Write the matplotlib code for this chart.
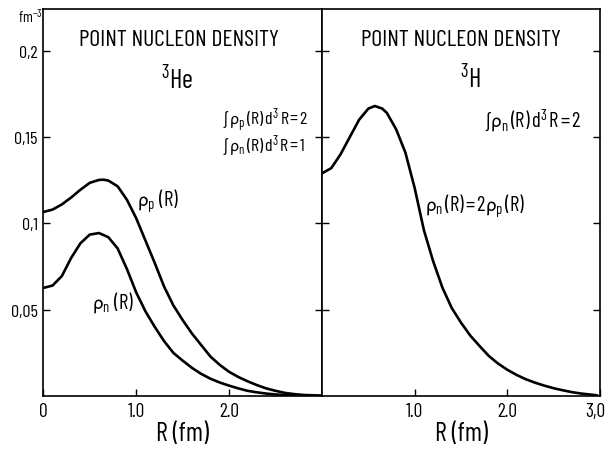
import matplotlib
matplotlib.use("Agg")
import matplotlib.pyplot as plt
from matplotlib.transforms import ScaledTranslation

FAM = ['Barlow Condensed', 'DejaVu Sans']
plt.rcParams['font.family'] = FAM
plt.rcParams['mathtext.fontset'] = 'custom'
plt.rcParams['mathtext.rm'] = 'Barlow Condensed'
plt.rcParams['mathtext.it'] = 'Barlow Condensed'
plt.rcParams['mathtext.bf'] = 'Barlow Condensed'
plt.rcParams['mathtext.fallback'] = 'stixsans'

# ---- data ----
R_he_p = [0.0, 0.1, 0.2, 0.3, 0.4, 0.5, 0.6, 0.65, 0.7, 0.8, 0.9, 1.0, 1.1, 1.2, 1.3,
          1.4, 1.5, 1.6, 1.7, 1.8, 1.9, 2.0, 2.1, 2.2, 2.3, 2.4, 2.5, 2.6, 2.7, 2.8, 2.9, 3.0]
rho_he_p = [0.1066, 0.1080, 0.1110, 0.1150, 0.1195, 0.1235, 0.1252, 0.1253, 0.1248,
            0.1215, 0.1137, 0.1030, 0.0900, 0.0770, 0.0634, 0.0525, 0.0440, 0.0362,
            0.0295, 0.0228, 0.0180, 0.0140, 0.0110, 0.0085, 0.0063, 0.0044, 0.0030,
            0.0018, 0.0011, 0.0006, 0.0004, 0.0002]

R_he_n = [0.0, 0.1, 0.2, 0.3, 0.4, 0.5, 0.6, 0.7, 0.8, 0.9, 1.0, 1.1, 1.2, 1.3, 1.4,
          1.5, 1.6, 1.7, 1.8, 1.9, 2.0, 2.1, 2.2, 2.3, 2.4, 2.5, 2.6, 2.8, 3.0]
rho_he_n = [0.0626, 0.0640, 0.0695, 0.0800, 0.0885, 0.0935, 0.0944, 0.0920, 0.0855,
            0.0736, 0.0600, 0.0490, 0.0400, 0.0318, 0.0250, 0.0205, 0.0163, 0.0128,
            0.0100, 0.0078, 0.0060, 0.0044, 0.0030, 0.0021, 0.0014, 0.0009, 0.0005,
            0.0002, 0.0001]

R_h = [0.0, 0.1, 0.2, 0.3, 0.4, 0.5, 0.57, 0.65, 0.7, 0.8, 0.9, 1.0, 1.1, 1.2, 1.3,
       1.4, 1.5, 1.6, 1.7, 1.8, 1.9, 2.0, 2.1, 2.2, 2.3, 2.4, 2.5, 2.6, 2.7, 2.8, 2.9, 2.97]
rho_h_n = [0.1290, 0.1320, 0.1400, 0.1500, 0.1600, 0.1665, 0.1680, 0.1665, 0.1640,
           0.1545, 0.1410, 0.1205, 0.0960, 0.0780, 0.0627, 0.0510, 0.0425, 0.0350,
           0.0290, 0.0232, 0.0188, 0.0152, 0.0122, 0.0097, 0.0077, 0.0060, 0.0045,
           0.0033, 0.0022, 0.0014, 0.0008, 0.0004]

yticks = [0.05, 0.1, 0.15, 0.2]
ytick_labels = ['0,05', '0,1', '0,15', '0,2']
xticks_left = [0, 1, 2]
xtick_labels_left = ['0', '1.0', '2.0']
xticks_right = [1, 2, 3]
xtick_labels_right = ['1.0', '2.0', '3,0']

W, H = 607, 452
fig = plt.figure(figsize=(W / 100, H / 100), dpi=100)

def fx(px):
    return px / W

def fy(py):
    return 1 - py / H

left, right, mid = 43.3, 600, 322
bot, top = 397, 10
axL = fig.add_axes([fx(left), fy(bot), fx(mid) - fx(left), fy(top) - fy(bot)])
axR = fig.add_axes([fx(mid), fy(bot), fx(right) - fx(mid), fy(top) - fy(bot)])

lw = 1.9
axL.plot(R_he_p, rho_he_p, color='black', lw=lw, solid_capstyle='round')
axL.plot(R_he_n, rho_he_n, color='black', lw=lw, solid_capstyle='round')
axR.plot(R_h, rho_h_n, color='black', lw=lw, solid_capstyle='round')

for ax in (axL, axR):
    ax.set_xlim(0, 3.0)
    ax.set_ylim(0, 0.2242)
    for s in ax.spines.values():
        s.set_linewidth(1.2)
    ax.tick_params(direction='in', length=5, width=1.0)
    ax.tick_params(axis='x', pad=4, labelsize=14)

axL.set_xticks(xticks_left)
axL.set_xticklabels(xtick_labels_left)
axL.set_yticks(yticks)
axL.set_yticklabels(ytick_labels)
axL.tick_params(axis='y', right=True, pad=4, labelsize=13)

axR.set_xticks(xticks_right)
axR.set_xticklabels(xtick_labels_right)
axR.set_yticks(yticks)
axR.tick_params(axis='y', left=True, right=True, labelleft=False)

# the last tick label sits against the right edge in the original
lab = axR.get_xticklabels()[-1]
lab.set_transform(lab.get_transform() + ScaledTranslation(-5 / 100, 0, fig.dpi_scale_trans))

axL.set_xlabel('R (fm)', fontsize=19, labelpad=1)
axR.set_xlabel('R (fm)', fontsize=19, labelpad=1)

fig.text(fx(18), fy(17), 'fm$^{-3}$', fontsize=11, ha='left', va='center')

fig.text(fx(179), fy(40), 'POINT NUCLEON DENSITY', fontsize=17, ha='center', va='center')
fig.text(fx(461), fy(40), 'POINT NUCLEON DENSITY', fontsize=17, ha='center', va='center')
fig.text(fx(177), fy(80), '$^3$He', fontsize=19, ha='center', va='center')
fig.text(fx(470), fy(79), '$^3$H', fontsize=19, ha='center', va='center')

s = '$\\,$'
fig.text(fx(222), fy(121), '\u222b' + s + '$\\mathrm{\\rho_{p}}$' + s + '(R)' + s + 'd$^3$' + s + 'R' + s + '=' + s + '2',
         fontsize=13, ha='left', va='center')
fig.text(fx(222), fy(146), '\u222b' + s + '$\\mathrm{\\rho_{n}}$' + s + '(R)' + s + 'd$^3$' + s + 'R' + s + '=' + s + '1',
         fontsize=13, ha='left', va='center')
fig.text(fx(484), fy(121), '\u222b$\\mathrm{\\rho_{n}}$' + s + '(R)' + s + 'd$^3$' + s + 'R' + s + '=' + s + '2',
         fontsize=15, ha='left', va='center')

fig.text(fx(137), fy(201), '$\\mathrm{\\rho_{p}}$ (R)', fontsize=15, ha='left', va='center')
fig.text(fx(92), fy(303), '$\\mathrm{\\rho_{n}}$ (R)', fontsize=15, ha='left', va='center')
fig.text(fx(425), fy(206), '$\\mathrm{\\rho_{n}}$' + s + '(R)' + s + '=' + s + '2$\\mathrm{\\rho_{p}}$' + s + '(R)',
         fontsize=15, ha='left', va='center')

fig.savefig('out.png', dpi=100)
